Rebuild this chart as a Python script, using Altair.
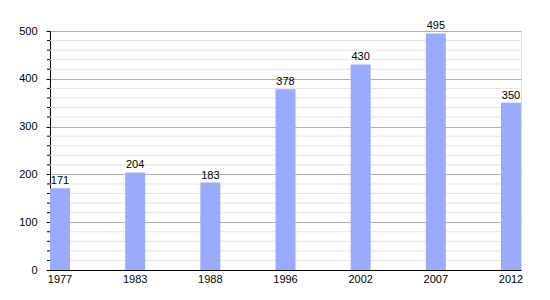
import altair as alt
import pandas as pd

years = ["1977", "1983", "1988", "1996", "2002", "2007", "2012"]
values = [171, 204, 183, 378, 430, 495, 350]
major_ticks = [0, 100, 200, 300, 400, 500]
minor_ticks = [20, 40, 60, 80, 120, 140, 160, 180, 220, 240, 260, 280,
               320, 340, 360, 380, 420, 440, 460, 480]

df = pd.DataFrame({"year": years, "value": values})
minor_df = pd.DataFrame({"value": minor_ticks})

FONT = "Liberation Sans"
yscale = alt.Scale(domain=[0, 500], nice=False)
yaxis = alt.Axis(title=None, values=major_ticks, grid=True, gridColor="#b0b0b0",
                 domainColor="black", tickColor="black", tickSize=4,
                 labelPadding=9, labelColor="black", labelFont=FONT,
                 labelFontSize=11)
xscale = alt.Scale(paddingInner=0.734, paddingOuter=0)
xaxis = alt.Axis(title=None, labelAngle=0, ticks=False, domainColor="black",
                 labelColor="black", labelFont=FONT, labelFontSize=11,
                 labelPadding=3, grid=False)

minor_grid = alt.Chart(minor_df).mark_rule(color="#e4e4e4", strokeWidth=1).encode(
    y=alt.Y("value:Q", scale=yscale, axis=yaxis),
    x=alt.value(0), x2=alt.value(471),
)
minor_tick = alt.Chart(minor_df).mark_rule(color="black", strokeWidth=1).encode(
    y=alt.Y("value:Q", scale=yscale, axis=yaxis),
    x=alt.value(-3), x2=alt.value(0),
)

bars = alt.Chart(df).mark_bar(color="#99aaff").encode(
    x=alt.X("year:N", sort=years, scale=xscale, axis=xaxis),
    y=alt.Y("value:Q", scale=yscale, axis=yaxis),
)
labels = alt.Chart(df).mark_text(dy=-7, font=FONT, fontSize=11, color="black").encode(
    x=alt.X("year:N", sort=years, scale=xscale, axis=xaxis),
    y=alt.Y("value:Q", scale=yscale, axis=yaxis),
    text="value:Q",
)

chart = alt.layer(minor_grid, bars, minor_tick, labels).properties(
    width=471, height=239,
    autosize=alt.AutoSizeParams(type="none"),
    padding={"left": 50, "top": 31, "right": 29, "bottom": 30},
).configure_view(stroke=None).configure(background="white")

chart.save("out.html", embed_options={"renderer": "svg", "actions": False})
